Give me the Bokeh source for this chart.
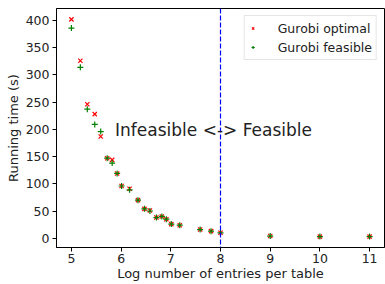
from bokeh.plotting import figure
from bokeh.models import Span, Label, FixedTicker, Range1d, Legend, LegendItem
from bokeh.embed import file_html
from bokeh.resources import INLINE

log_entries = [5.0, 5.18, 5.32, 5.47, 5.59, 5.72, 5.82, 5.92, 6.01, 6.17, 6.34, 6.47,
               6.58, 6.71, 6.82, 6.91, 7.01, 7.18, 7.59, 7.81, 8.0, 9.0, 10.0, 11.0]
gurobi_optimal = [402, 326, 246, 228, 187, 147, 144, 119, 96, 91, 70, 54,
                  51, 38, 40, 35, 26, 24, 16, 13, 10, 4, 3, 3]
gurobi_feasible = [386, 314, 237, 209, 196, 147, 138, 119, 96, 89, 70, 54,
                   50, 38, 40, 35, 26, 24, 16, 13, 10, 4, 3, 3]
x_ticks = [5, 6, 7, 8, 9, 10, 11]
y_ticks = [0, 50, 100, 150, 200, 250, 300, 350, 400]
boundary = 8
FONT = "DejaVu Sans"

p = figure(width=385, height=284, output_backend="svg", toolbar_location=None,
           x_range=Range1d(4.7, 11.3), y_range=Range1d(-17, 422),
           min_border_left=56, min_border_right=1, min_border_top=8, min_border_bottom=37)
p.background_fill_color = "white"
p.border_fill_color = "white"
p.outline_line_color = "black"
p.outline_line_width = 1
p.grid.visible = False

for ax in (p.xaxis[0], p.yaxis[0]):
    ax.major_tick_out = 4
    ax.major_tick_in = 0
    ax.minor_tick_line_color = None
    ax.axis_line_color = "black"
    ax.major_tick_line_color = "black"
    ax.major_label_text_font = FONT
    ax.major_label_text_font_size = "12.5px"
    ax.major_label_text_color = "#222222"
    ax.axis_label_text_font = FONT
    ax.axis_label_text_font_size = "13px"
    ax.axis_label_text_font_style = "normal"
    ax.axis_label_text_color = "#222222"
    ax.axis_label_text_line_height = 0.9
    ax.major_label_text_line_height = 0.9

p.xaxis.ticker = FixedTicker(ticks=x_ticks)
p.yaxis.ticker = FixedTicker(ticks=y_ticks)
p.xaxis.axis_label = "Log number of entries per table"
p.yaxis.axis_label = "Running time (s)"
p.xaxis.major_label_standoff = 2
p.xaxis.axis_label_standoff = 0
p.yaxis.major_label_standoff = 3
p.yaxis.axis_label_standoff = 2

r_opt = p.scatter(log_entries, gurobi_optimal, marker="x", size=6, line_color="red", line_width=1.2)
r_fea = p.scatter(log_entries, gurobi_feasible, marker="cross", size=6, line_color="green", line_width=1.2)

span = Span(location=boundary, dimension="height", line_color="blue", line_dash="5 2", line_width=1.2)
p.add_layout(span)

lab = Label(x=7.86, y=198, text="Infeasible <-> Feasible", text_align="center",
            text_baseline="middle", text_font=FONT, text_font_size="17px", text_color="#222222")
p.add_layout(lab)

legend = Legend(items=[LegendItem(label="Gurobi optimal", renderers=[r_opt]),
                       LegendItem(label="Gurobi feasible", renderers=[r_fea])],
                location="top_right")
legend.label_text_font = FONT
legend.label_text_font_size = "12.5px"
legend.label_text_color = "#222222"
legend.glyph_width = 8
legend.glyph_height = 8
legend.label_height = 16
legend.spacing = 3
legend.padding = 4
legend.margin = 7
legend.label_standoff = 21
legend.border_line_color = "#cccccc"
legend.border_line_width = 1
legend.background_fill_alpha = 0.8
p.add_layout(legend)

open("out.html", "w").write(file_html(p, INLINE))
